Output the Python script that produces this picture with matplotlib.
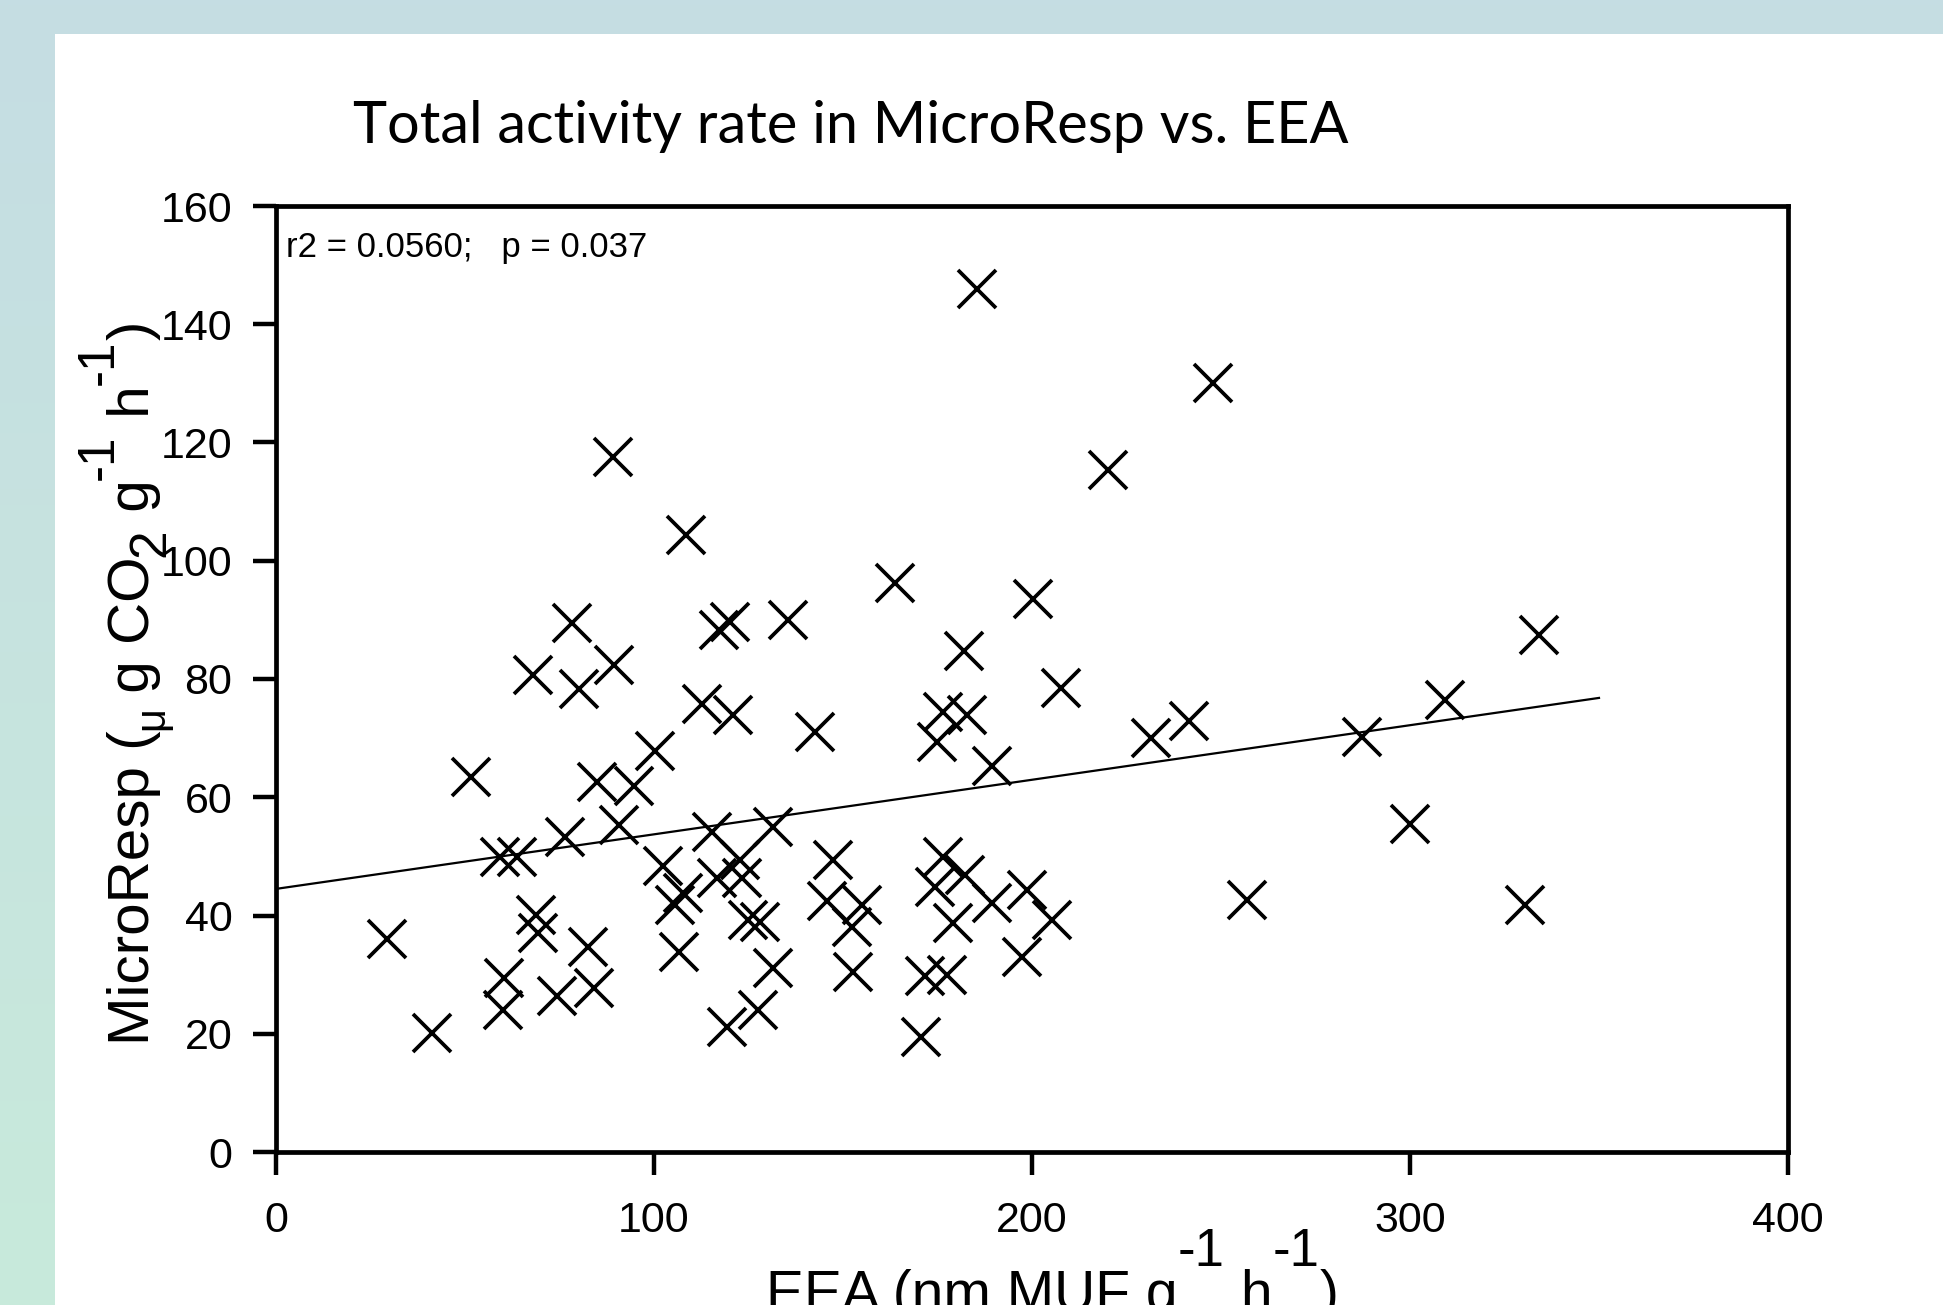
import numpy as np
import matplotlib
matplotlib.use("Agg")
import matplotlib.pyplot as plt
from matplotlib.transforms import IdentityTransform
from matplotlib.font_manager import FontProperties
from matplotlib.patches import Rectangle

# ---------------- data ----------------
eea = [29.4, 41.2, 51.5, 59.3, 63.7, 60.3, 60.1, 68.1, 68.8, 69.4,
       74.3, 76.5, 78.2, 80.2, 82.6, 84.1, 84.8, 89.4, 89.1, 90.8,
       94.7, 100.3, 102.5, 108.5, 105.6, 106.7, 107.8, 112.6, 115.3, 117.1,
       120.1, 116.6, 119.2, 121.0, 122.8, 123.2, 124.9, 128.0, 127.6, 131.6,
       131.4, 135.4, 142.6, 145.7, 147.4, 152.3, 154.9, 152.6, 163.8, 170.6,
       171.7, 177.4, 174.3, 174.9, 176.5, 182.7, 176.5, 182.3, 179.2, 182.0,
       185.5, 189.3, 189.3, 197.3, 198.6, 200.3, 205.2, 207.8, 220.0, 231.4,
       241.6, 247.9, 256.8, 287.2, 300.1, 309.2, 330.4, 334.2]
microresp = [36.1, 20.2, 63.5, 49.9, 49.9, 29.5, 24.1, 80.6, 40.1, 37.1,
             26.4, 53.3, 89.5, 78.3, 34.7, 27.7, 62.5, 82.3, 117.5, 55.3,
             61.9, 67.9, 48.3, 104.3, 41.8, 33.9, 43.8, 75.8, 54.2, 88.3,
             89.7, 46.3, 21.2, 73.9, 49.4, 46.3, 39.2, 38.9, 24.0, 31.1,
             55.0, 89.9, 71.1, 42.4, 49.4, 38.1, 41.8, 30.5, 96.2, 19.4,
             29.8, 29.9, 44.9, 69.4, 74.5, 73.9, 49.9, 46.8, 38.7, 84.8,
             145.9, 65.3, 42.1, 32.9, 44.3, 93.5, 39.2, 78.4, 115.3, 70.1,
             72.9, 130.1, 42.7, 70.2, 55.5, 76.4, 41.7, 87.5]
fit_x = [0, 350]
fit_y = [44.5, 76.8]
x_ticks = [0, 100, 200, 300, 400]
y_ticks = [0, 20, 40, 60, 80, 100, 120, 140, 160]
title_text = "Total activity rate in MicroResp vs. EEA"
stats_text = "r2 = 0.0560;   p = 0.037"

# ---------------- figure ----------------
W, H = 1943, 1305
DPI = 100
fig = plt.figure(figsize=(W / DPI, H / DPI), dpi=DPI)

# slide-like background: gradient frame + white panel
bg = fig.add_axes([0, 0, 1, 1], zorder=-10)
top_c = np.array([197, 221, 227]) / 255.0
bot_c = np.array([200, 234, 219]) / 255.0
t = np.linspace(0, 1, 256)[:, None, None]
grad = (1 - t) * top_c[None, None, :] + t * bot_c[None, None, :]
bg.imshow(grad, aspect="auto", extent=[0, 1, 0, 1])
bg.add_patch(Rectangle((55 / W, 0), 1, (H - 34) / H, transform=bg.transAxes,
                       facecolor="white", edgecolor="none"))
bg.set_xlim(0, 1)
bg.set_ylim(0, 1)
bg.set_axis_off()

# main axes
L, R, T, B = 276, 1788, 206, 1152
ax = fig.add_axes([L / W, (H - B) / H, (R - L) / W, (B - T) / H])
ax.set_facecolor("none")
ax.plot(eea, microresp, linestyle="none", marker="x", markersize=27,
        markeredgewidth=2.7, color="black")
ax.plot(fit_x, fit_y, color="black", lw=1.6)
ax.set_xlim(0, 400)
ax.set_ylim(0, 160)
ax.set_xticks(x_ticks)
ax.set_yticks(y_ticks)
for s in ax.spines.values():
    s.set_linewidth(3.4)
ax.tick_params(direction="out", length=16.5, width=3.2, labelsize=31)
ax.tick_params(axis="y", pad=15)
ax.tick_params(axis="x", pad=19)
for lab in ax.get_xticklabels() + ax.get_yticklabels():
    lab.set_fontfamily("Liberation Sans")

# texts
idt = IdentityTransform()
fig.text(353, H - 143, title_text, transform=idt, ha="left", va="baseline",
         fontsize=41.5, family="Lato", color="black")
fig.text(286, H - 257, stats_text, transform=idt, ha="left", va="baseline",
         fontsize=25, family="Liberation Sans", color="black")

renderer = fig.canvas.get_renderer()


def advance(s, fp):
    w1, _, _ = renderer.get_text_width_height_descent("|" + s + "|", fp, ismath=False)
    w0, _, _ = renderer.get_text_width_height_descent("||", fp, ismath=False)
    return w1 - w0


def place(pieces, x0, y0, rot):
    cur = 0.0
    for p in pieces:
        s, size, shift = p[0], p[1], p[2]
        fp = FontProperties(family="Liberation Sans", size=size)
        if rot == 0:
            x, y = x0 + cur, y0 + shift
        else:
            x, y = x0 - shift, y0 + cur
        fig.text(x, y, s, transform=idt, fontproperties=fp, rotation=rot,
                 rotation_mode="anchor", ha="left", va="baseline", color="black")
        cur += p[3] if len(p) > 3 else advance(s, fp)


MAIN, SUP = 41, 38
xlabel_pieces = [("EEA (nm MUF g", MAIN, 0), ("-1", SUP, 45), (" h", MAIN, 0),
                 ("-1", SUP, 45), (")", MAIN, 0)]
ylabel_pieces = [("MicroResp (", 42, 0), ("\u03bc", 30, -14, 21), (" g CO", 42, 0),
                 ("2", 37, -15), (" g", 42, 0), ("-1", 37, 36), (" h", 42, 0),
                 ("-1", 37, 36), (")", 42, 0)]
place(xlabel_pieces, 766, -6, 0)
place(ylabel_pieces, 149, 260, 90)

fig.savefig("out.png", dpi=DPI)
